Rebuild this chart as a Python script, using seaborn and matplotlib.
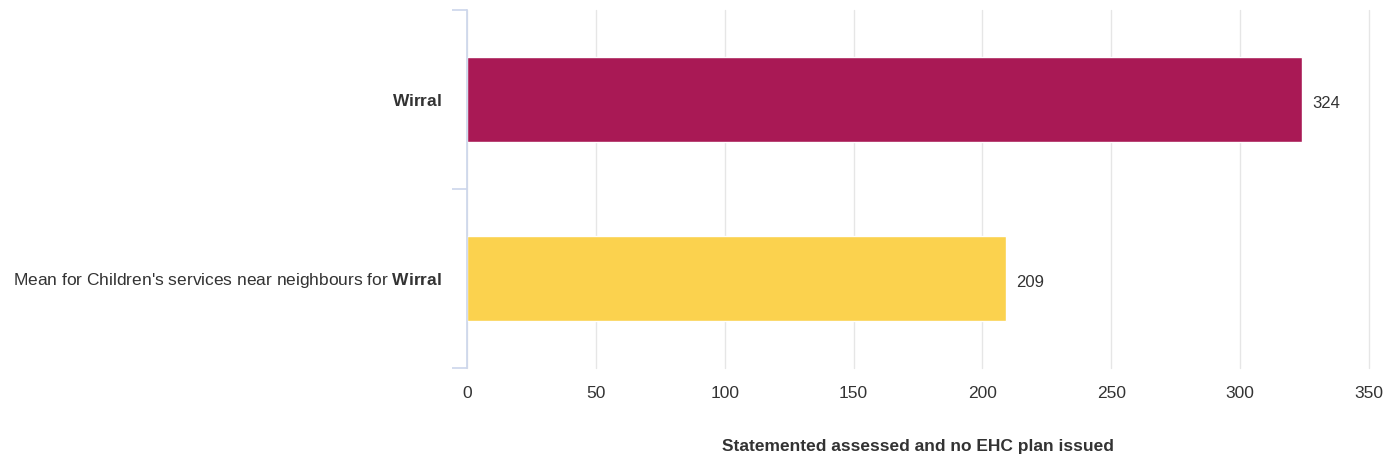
import matplotlib
matplotlib.use("Agg")
import matplotlib.pyplot as plt
import seaborn as sns
import pandas as pd

# data
categories = ["$\\mathbf{Wirral}$",
              "Mean for Children's services near neighbours for $\\mathbf{Wirral}$"]
values = [324, 209]
bar_colors = ["#a91955", "#fbd24e"]
x_ticks = [0, 50, 100, 150, 200, 250, 300, 350]
x_title = "Statemented assessed and no EHC plan issued"

sns.set_theme(style="white")
plt.rcParams["font.family"] = ["Liberation Sans", "DejaVu Sans"]
plt.rcParams["mathtext.fontset"] = "custom"
plt.rcParams["mathtext.bf"] = "Liberation Sans:bold"
plt.rcParams["mathtext.rm"] = "Liberation Sans"

df = pd.DataFrame({"cat": categories, "val": values})

fig = plt.figure(figsize=(13.83, 4.61), dpi=100)
ax = fig.add_axes([467 / 1383, 1 - 368 / 461, (1369 - 467) / 1383, 358 / 461])

sns.barplot(data=df, y="cat", x="val", hue="cat", palette=bar_colors,
            orient="h", width=0.475, legend=False, ax=ax, saturation=1,
            zorder=3)

ax.set_xlim(0, 350)
ax.set_ylim(1.5, -0.5)
ax.set_xticks(x_ticks)
ax.set_xticklabels([str(t) for t in x_ticks])
ax.xaxis.grid(True, color="#e6e6e6", linewidth=1, zorder=0)
ax.yaxis.grid(False)
for gl in ax.get_xgridlines():
    gl.set_clip_on(False)

for s in ["top", "right", "bottom"]:
    ax.spines[s].set_visible(False)
ax.spines["left"].set_color("#ccd6eb")
ax.spines["left"].set_linewidth(1.2)
ax.spines["left"].set_zorder(4)

ax.tick_params(axis="x", length=0, pad=13, labelsize=12.5, labelcolor="#333333")
ax.tick_params(axis="y", which="major", length=0, pad=18, labelsize=12.5,
               labelcolor="#333333")
ax.set_yticks([-0.5, 0.5, 1.5], minor=True)
ax.tick_params(axis="y", which="minor", length=11, width=1.2, color="#ccd6eb",
               left=True)

for i, v in enumerate(values):
    ax.text(v + 4, i + 0.02, str(v), va="center", ha="left", fontsize=12,
            color="#333333")

ax.set_xlabel(x_title, fontsize=12.5, fontweight="bold", color="#333333",
              labelpad=27)
ax.set_ylabel("")

fig.savefig("out.png", dpi=100)
